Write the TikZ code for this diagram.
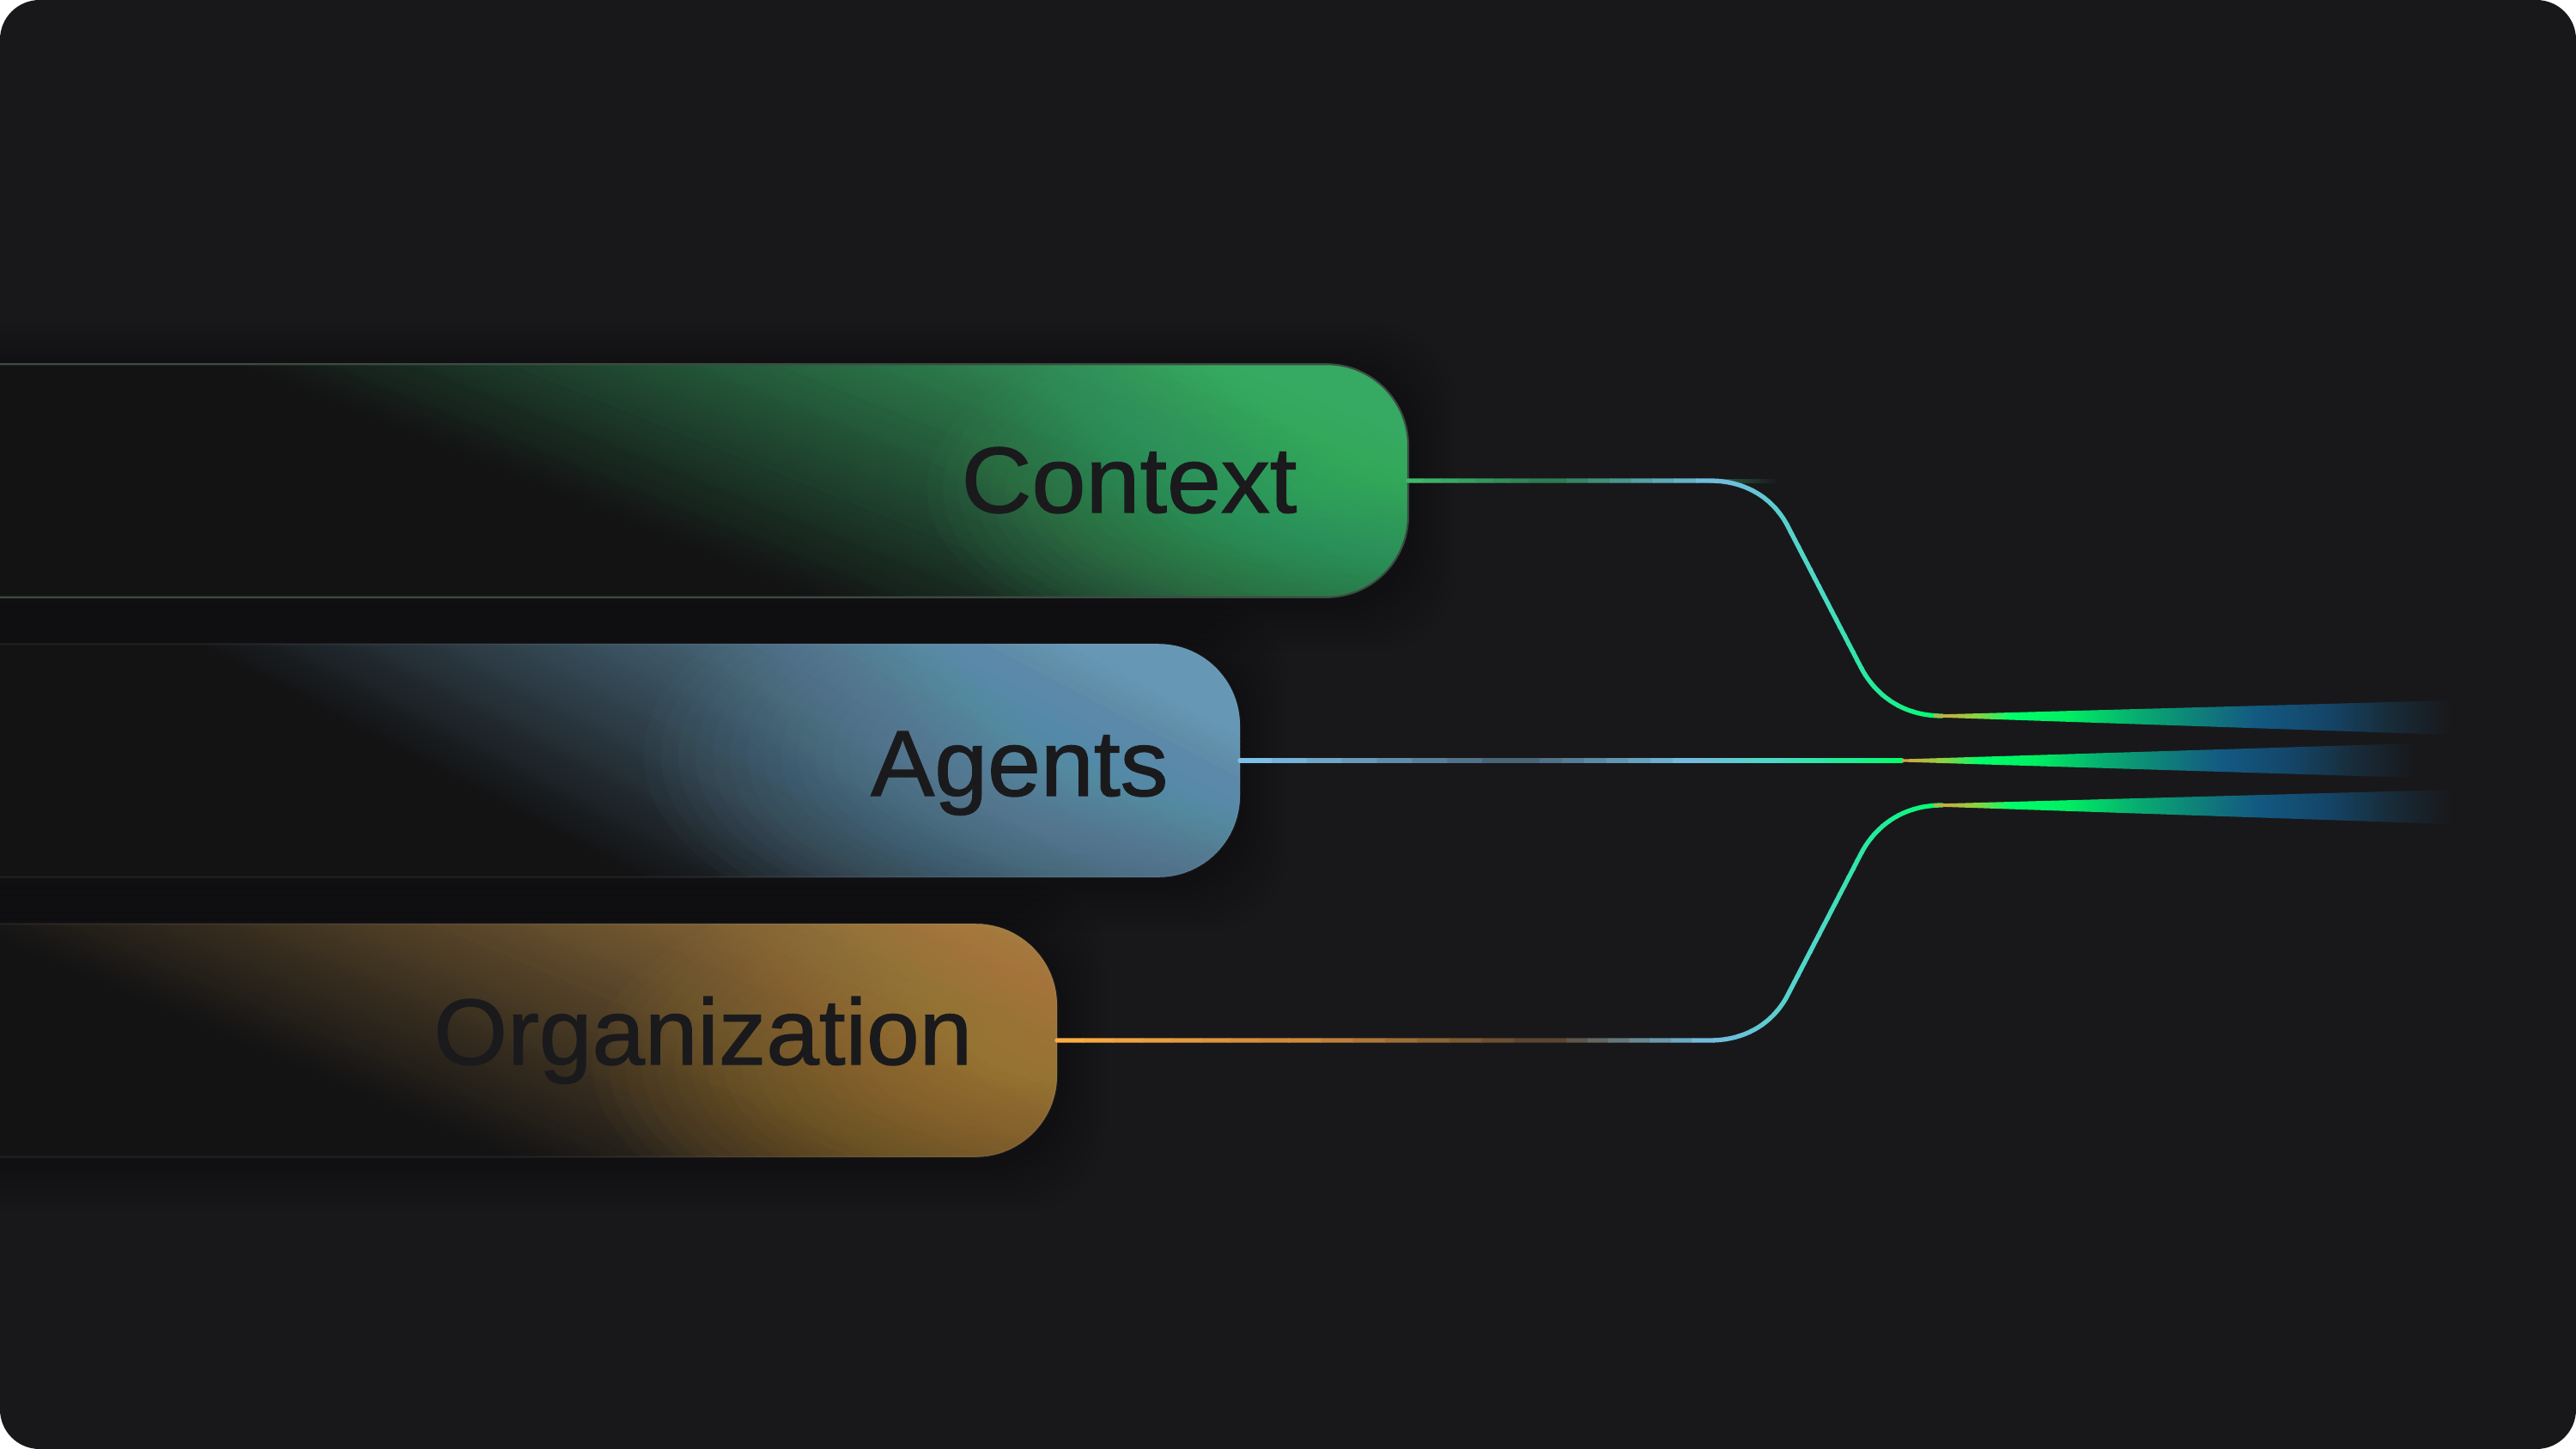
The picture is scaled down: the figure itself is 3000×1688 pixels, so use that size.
\documentclass[tikz,border=0pt]{standalone}
\usepackage{fontspec}
\newfontfamily\boxfont[FakeBold=1.2]{Liberation Sans}
\usetikzlibrary{calc}

\definecolor{bgcol}{HTML}{18181B}
\definecolor{boxdark}{HTML}{131314}
\definecolor{labeltext}{HTML}{1A1A1D}
\definecolor{ctxmid}{HTML}{36A562}
\definecolor{ctxglow}{HTML}{48C878}
\definecolor{agtmid}{HTML}{6698B5}
\definecolor{agtglow}{HTML}{72A8C8}
\definecolor{orgmid}{HTML}{A47C3F}
\definecolor{orgglow}{HTML}{C3923F}
\definecolor{ctxborder}{HTML}{3C4B41}
\definecolor{ctxline}{HTML}{3FBA6C}
\definecolor{ctxdim}{HTML}{2E7C52}
\definecolor{ctxstub}{HTML}{2C6A45}
\definecolor{agtline}{HTML}{7CC0E8}
\definecolor{agtdim}{HTML}{4A6477}
\definecolor{orgline}{HTML}{FFAD42}
\definecolor{orgwarm}{HTML}{D08B3B}
\definecolor{orgdim}{HTML}{5A4631}
\definecolor{lineblue}{HTML}{72BBDD}
\definecolor{lineteal}{HTML}{4FD8C8}
\definecolor{linemint}{HTML}{22EC98}
\definecolor{linegreen}{HTML}{00FF6A}
\definecolor{fanorange}{HTML}{D9A23E}
\definecolor{fanlime}{HTML}{8FD23F}
\definecolor{fangreen}{HTML}{00EE62}
\definecolor{fanjade}{HTML}{07AE70}
\definecolor{fanteal}{HTML}{0F7C7A}
\definecolor{fanblue}{HTML}{135A82}
\definecolor{fandeep}{HTML}{144568}
\definecolor{fanfade}{HTML}{182C3A}

% fan colours, 25bp..75bp = apex..tail
\pgfdeclarehorizontalshading{fanshade}{100bp}{color(0bp)=(fanorange); color(25bp)=(fanorange);
  color(29bp)=(fanlime); color(32.5bp)=(linegreen); color(38bp)=(fangreen); color(44.5bp)=(fanjade);
  color(51bp)=(fanteal); color(56bp)=(fanblue); color(63bp)=(fandeep); color(69bp)=(fanfade);
  color(75bp)=(bgcol); color(100bp)=(bgcol)}

% node, origin of the dark edge, angle, ramp, colour, glow centre, glow colour, glow radii (px)
\newcommand\boxshade[9]{%
  \begin{scope}
    \clip[rounded corners=0.95cm] (#1.south west) rectangle (#1.north east);
    \begin{scope}[shift={#2}, rotate=-#3]
      \fill[#5] (-3000,-#4) rectangle (3000,-3000);
      \foreach \i in {0,...,89}{
        \pgfmathtruncatemacro\p{100*\i/89}
        \pgfmathsetmacro\sa{-\i*(#4/90)}
        \pgfmathsetmacro\sb{-(\i+1)*(#4/90)-1}
        \fill[#5!\p!boxdark] (-3000,\sa) rectangle (3000,\sb);
      }
    \end{scope}
    \foreach \k in {1,...,25}{
      \pgfmathsetmacro\rx{#8/2500*\k}
      \pgfmathsetmacro\ry{#9/2500*\k}
      \fill[#7, opacity=0.03] #6 ellipse[x radius=\rx cm, y radius=\ry cm];
    }
  \end{scope}
}

% path, list of x1/x2/colour1/colour2
\newcommand\gradstroke[2]{%
  \foreach \xa/\xb/\ca/\cb in {#2}{%
    \foreach \i in {0,...,7}{%
      \pgfmathsetmacro\xl{\xa+(\xb-\xa)*\i/8}%
      \pgfmathsetmacro\xr{\xa+(\xb-\xa)*(\i+1)/8+1}%
      \pgfmathtruncatemacro\p{100*\i/7}%
      \begin{scope}
        \clip (\xl,0) rectangle (\xr,1688);
        \draw[conn, draw=\cb!\p!\ca] #1;
      \end{scope}
    }%
  }%
}

% soft shadow round a box
\newcommand\boxshadow[1]{%
  \foreach \k in {1,...,8}
    \fill[black, opacity=0.018, rounded corners=0.95cm]
      ($(#1.south west)+(-\k*7,\k*7+8)$) rectangle ($(#1.north east)+(\k*7,-\k*7+8)$);
}

\tikzset{
  box/.style={rectangle, rounded corners=0.95cm, inner sep=0pt, minimum width=17.6cm,
    minimum height=2.7cm, anchor=east},
  boxedge/.style={line width=0.6pt, rounded corners=0.95cm},
  lbl/.style={font=\boxfont\fontsize{31}{37}\selectfont, text=labeltext, inner sep=0pt, anchor=base east},
  conn/.style={line width=1.5pt, line cap=round},
  fan/.style={shading=fanshade}
}

\begin{document}
\begin{tikzpicture}[x=0.01cm, y=-0.01cm]
  \useasboundingbox (0,0) rectangle (3000,1688);
  \fill[white] (0,0) rectangle (3000,1688);
  \fill[bgcol, rounded corners=0.46cm] (0,0) rectangle (3000,1688);

  % boxes
  \path (1640,560) node[box] (ctx) {}
        (1444,886) node[box] (agt) {}
        (1231,1212) node[box] (org) {};
  \boxshadow{ctx}
  \boxshadow{agt}
  \boxshadow{org}
  \fill[boxdark, rounded corners=0.95cm] (ctx.south west) rectangle (ctx.north east);
  \fill[boxdark, rounded corners=0.95cm] (agt.south west) rectangle (agt.north east);
  \fill[boxdark, rounded corners=0.95cm] (org.south west) rectangle (org.north east);
  \boxshade{ctx}{(270,425)}{22.1}{440}{ctxmid}{(1540,570)}{ctxglow}{460}{210}
  \boxshade{agt}{(223,751)}{27.8}{480}{agtmid}{(1250,880)}{agtglow}{500}{240}
  \boxshade{org}{(0,1100)}{23.1}{480}{orgmid}{(1170,1240)}{orgglow}{480}{230}
  \draw[boxedge, ctxborder] (ctx.south west) rectangle (ctx.north east);
  \draw[boxedge, white, opacity=0.06] (agt.south west) rectangle (agt.north east);
  \draw[boxedge, white, opacity=0.06] (org.south west) rectangle (org.north east);

  \node[lbl] (ctxtext) at (1511,597) {\scalebox{1.04}[1]{Context}};
  \node[lbl] (agttext) at (1361,927) {\scalebox{1.02}[1]{Agents}};
  \node[lbl] (orgtext) at (1133,1240) {\scalebox{1.015}[1]{Organization}};

  % fan apexes
  \coordinate (f1) at (2262,834);
  \coordinate (f2) at (2215,886);
  \coordinate (f3) at (2262,938);

  % connectors
  \shade[left color=ctxstub, right color=bgcol] (1990,558) rectangle (2070,562);
  \gradstroke{(ctx.east) -- (1991,560) .. controls (2035,560) and (2066,582) .. (2082,613)
      -- (2167,777) .. controls (2183,808) and (2214,834) .. (f1)}
    {1636/1800/ctxline/ctxdim, 1800/2000/ctxdim/lineblue, 2000/2110/lineblue/lineteal,
     2110/2190/lineteal/linemint, 2190/2266/linemint/linegreen}
  \gradstroke{(agt.east) -- (f2)}
    {1440/1767/agtline/agtdim, 1767/1974/agtdim/lineblue, 1974/2060/lineblue/lineteal,
     2060/2146/lineteal/linemint, 2146/2219/linemint/linegreen}
  \gradstroke{(org.east) -- (1991,1212) .. controls (2035,1212) and (2066,1190) .. (2082,1159)
      -- (2167,995) .. controls (2183,964) and (2214,938) .. (f3)}
    {1227/1500/orgline/orgwarm, 1500/1800/orgwarm/orgdim, 1800/1995/orgdim/lineblue,
     1995/2110/lineblue/lineteal, 2110/2190/lineteal/linemint, 2190/2266/linemint/linegreen}

  % fans
  \shade[fan] ($(f1)+(-10,-1.5)$) -- ++(602,-16.5) -- ++(0,40) -- ($(f1)+(-10,1.5)$) -- cycle;
  \shade[fan] ($(f2)+(0,-1.5)$) -- ++(597,-18.5) -- ++(0,40) -- ($(f2)+(0,1.5)$) -- cycle;
  \shade[fan] ($(f3)+(-10,-1.5)$) -- ++(602,-16.5) -- ++(0,40) -- ($(f3)+(-10,1.5)$) -- cycle;
\end{tikzpicture}
\end{document}
